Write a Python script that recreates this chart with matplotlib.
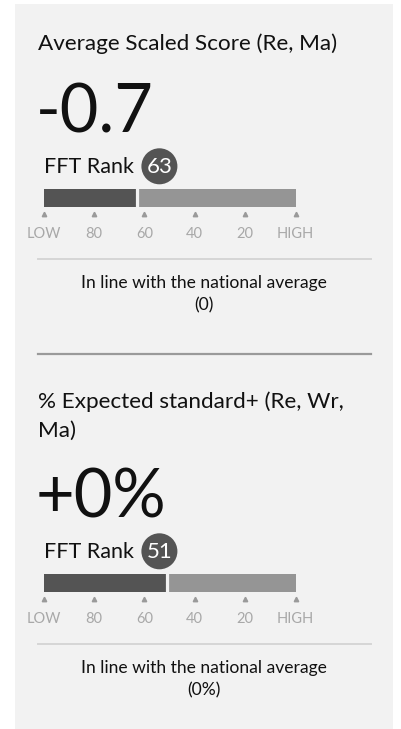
import matplotlib
matplotlib.use("Agg")
import matplotlib.pyplot as plt
from matplotlib.patches import Rectangle, Circle

# ---------------- data ----------------
titles = ["Average Scaled Score (Re, Ma)", "% Expected standard+ (Re, Wr,\nMa)"]
values = ["-0.7", "+0%"]
ranks = [63, 51]
comparisons = ["In line with the national average", "In line with the national average"]
national = ["(0)", "(0%)"]
tick_values = [100, 80, 60, 40, 20, 0]
tick_labels = ["LOW", "80", "60", "40", "20", "HIGH"]

# ---------------- styling ----------------
W, H = 401, 729
FONT = ["Lato", "DejaVu Sans"]
plt.rcParams["font.family"] = FONT
PANEL = "#f2f2f2"
DARK = "#545454"
LIGHT = "#959595"
TEXT = "#111111"
TICKC = "#a8a8a8"

fig = plt.figure(figsize=(W / 100, H / 100), dpi=100)
fig.patch.set_facecolor("white")

# overlay axes in pixel coordinates for layout
ov = fig.add_axes([0, 0, 1, 1])
ov.set_xlim(0, W)
ov.set_ylim(H, 0)
ov.axis("off")
ov.add_patch(Rectangle((15, 4), 378, H, facecolor=PANEL, edgecolor="none", zorder=0))

section_offsets = [0, 385]
title_line_h = 28.7

for i, off in enumerate(section_offsets):
    lines = titles[i].split("\n")
    n = len(lines)
    first_base = 50 + off - (n - 1) * 27
    for j, ln in enumerate(lines):
        ov.text(38, first_base + j * title_line_h, ln, fontsize=16.2, color=TEXT,
                va="baseline", ha="left")
    # big value
    ov.text(36, 132.7 + off, values[i], fontsize=48, color=TEXT, va="baseline", ha="left")
    # FFT Rank label + badge
    ov.text(44, 172.7 + off, "FFT Rank", fontsize=15.5, color=TEXT, va="baseline", ha="left")
    ov.add_patch(Circle((159.4, 166.3 + off), 18, facecolor=DARK, edgecolor="none", zorder=3))
    ov.text(159.4, 172.5 + off, str(ranks[i]), fontsize=16, color="white", va="baseline",
            ha="center", zorder=4)
    # rank bar axes
    bar_top = 189 + off
    ax = fig.add_axes([43.5 / W, 1 - (bar_top + 18) / H, 252 / W, 18 / H])
    ax.set_facecolor("none")
    ax.set_xlim(100, 0)
    ax.set_ylim(0, 1)
    ax.barh(0.5, ranks[i] - 100, left=100, height=1, color=DARK, edgecolor="none")
    ax.barh(0.5, -ranks[i], left=ranks[i], height=1, color=LIGHT, edgecolor="none")
    ax.axvline(ranks[i], color=PANEL, lw=2.3)
    ax.plot(tick_values, [-0.39] * len(tick_values), ls="none", marker="^", ms=3.2,
            color="#9a9a9a", clip_on=False)
    ax.set_xticks(tick_values)
    ax.set_xticklabels(tick_labels)
    ax.tick_params(axis="x", length=0, pad=14.3, labelsize=10.5, labelcolor=TICKC)
    ax.set_yticks([])
    for s in ax.spines.values():
        s.set_visible(False)
    # separator + comparison text
    ov.plot([38, 371], [259 + off, 259 + off], color="#d6d6d6", lw=1.4)
    ov.text(204, 288.3 + off, comparisons[i], fontsize=12.6, color=TEXT, va="baseline", ha="center")
    ov.text(204, 310 + off, national[i], fontsize=12.6, color=TEXT, va="baseline", ha="center")
    if i < len(section_offsets) - 1:
        ov.plot([38, 371], [353.7 + off, 353.7 + off], color="#9a9a9a", lw=1.6)

fig.savefig("out.png", dpi=100, facecolor="white")
